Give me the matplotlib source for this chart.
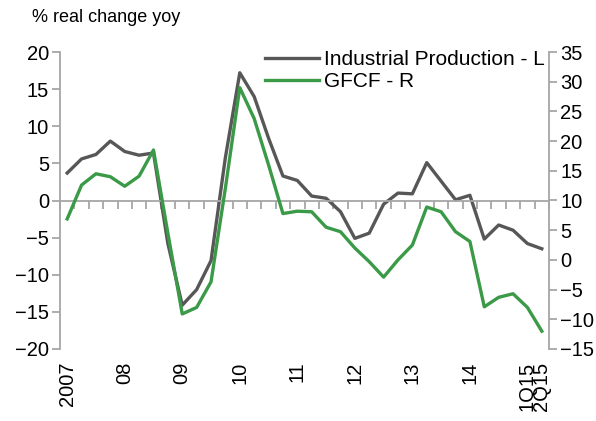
import numpy as np
import matplotlib
matplotlib.use("Agg")
import matplotlib.pyplot as plt

plt.rcParams['font.family'] = ['Liberation Sans', 'DejaVu Sans']

# quarterly data, 1Q2007 - 2Q2015
ind_prod = [3.7, 5.6, 6.2, 8.0, 6.6, 6.1, 6.4, -5.8, -14.1, -12.0, -8.1, 5.8,
            17.2, 14.0, 8.4, 3.3, 2.7, 0.6, 0.3, -1.5, -5.1, -4.4, -0.5, 1.0,
            0.9, 5.1, 2.6, 0.1, 0.7, -5.2, -3.3, -4.0, -5.8, -6.5]
gfcf = [6.9, 12.6, 14.5, 14.0, 12.4, 14.1, 18.5, 4.5, -9.1, -8.0, -3.7, 12.1,
        29.0, 23.8, 16.0, 7.8, 8.2, 8.1, 5.5, 4.75, 2.0, -0.3, -2.9, 0.0,
        2.5, 8.9, 8.1, 4.75, 3.1, -7.9, -6.3, -5.7, -8.0, -12.0]
xlabel_pos = [0, 4, 8, 12, 16, 20, 24, 28, 32, 33]
xlabel_txt = ["2007", "08", "09", "10", "11", "12", "13", "14", "1Q15", "2Q15"]

grey = "#575757"
green = "#3a9a47"
axis_col = "#a6a6a6"

fig = plt.figure(figsize=(5.96, 4.21), dpi=100)
ax = fig.add_axes([60/596, 1-349/421, 489/596, 297/421])
ax2 = ax.twinx()

x = np.arange(len(ind_prod))
l1, = ax.plot(x, ind_prod, color=grey, lw=2.4, label="Industrial Production - L")
l2, = ax2.plot(x, gfcf, color=green, lw=2.4, label="GFCF - R")

ax.set_xlim(-0.5, len(x) - 0.5)
ax.set_ylim(-20, 20)
ax2.set_ylim(-15, 35)
ax.set_yticks(range(-20, 21, 5))
ax2.set_yticks(range(-15, 36, 5))

for a in (ax, ax2):
    for s in a.spines.values():
        s.set_visible(False)
ax.spines['left'].set_visible(True)
ax.spines['left'].set_color(axis_col)
ax.spines['left'].set_linewidth(1.3)
ax.spines['bottom'].set_visible(True)
ax.spines['bottom'].set_position(('data', 0))
ax.spines['bottom'].set_color(axis_col)
ax.spines['bottom'].set_linewidth(1.3)
ax2.spines['right'].set_visible(True)
ax2.spines['right'].set_color(axis_col)
ax2.spines['right'].set_linewidth(1.3)

ax.tick_params(axis='y', direction='out', length=6, width=1.3, color=axis_col,
               labelsize=14.5, pad=2)
ax2.tick_params(axis='y', direction='out', length=6, width=1.3, color=axis_col,
                labelsize=14.5, pad=2)
ax.set_xticks(np.arange(-0.5, len(x), 1))
ax.set_xticklabels([])
ax.tick_params(axis='x', direction='out', length=6, width=1.3, color=axis_col)

for p, t in zip(xlabel_pos, xlabel_txt):
    ax.annotate(t, xy=(p, 0), xycoords=('data', 'axes fraction'),
                xytext=(0, -9), textcoords='offset points',
                rotation=90, ha='center', va='top', fontsize=14.5)

fig.text(32/596, 1-17/421, "% real change yoy", fontsize=13, va='center', ha='left')

ax2.legend(handles=[l1, l2], loc='upper right', frameon=False, fontsize=15,
           bbox_to_anchor=(545/596, 1-50/421), bbox_transform=fig.transFigure,
           borderpad=0, borderaxespad=0, handlelength=2.6, handletextpad=0.25,
           labelspacing=0.15)

fig.savefig("out.png", dpi=100)
